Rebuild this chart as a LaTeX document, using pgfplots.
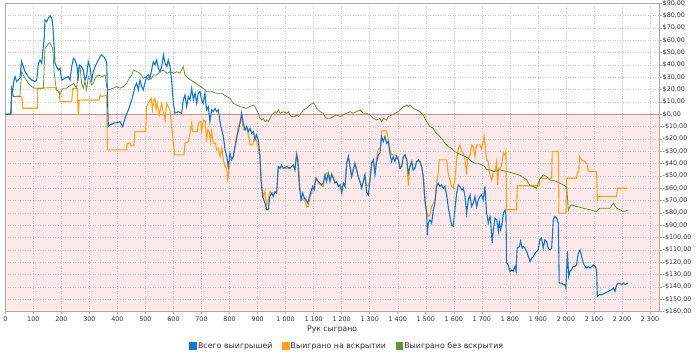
\documentclass[border=0pt]{standalone}
\usepackage{pgfplots}
\pgfplotsset{compat=1.18}
\usepackage{fontspec}
\setmainfont{DejaVu Sans}
\definecolor{cBlue}{RGB}{22,118,206}
\definecolor{cOrange}{RGB}{255,160,30}
\definecolor{cGreen}{RGB}{95,150,62}
\definecolor{cPink}{RGB}{253,233,233}
\definecolor{cZero}{RGB}{222,135,135}
\definecolor{cGrid}{RGB}{205,205,205}
\definecolor{cAxis}{RGB}{170,170,170}
\definecolor{cText}{RGB}{50,50,50}
\begin{document}
\begin{tikzpicture}
\begin{axis}[
  set layers,
  scale only axis,
  width=653.7bp, height=308.2bp,
  at={(0,0)}, anchor=south west,
  xmin=0, xmax=2332, ymin=-160, ymax=90,
  axis line style={cAxis, line width=0.6bp},
  tick style={cAxis, line width=0.6bp},
  tick align=outside,
  major tick length=2.5bp,
  xtick pos=left, ytick pos=right,
  yticklabel pos=right,
  grid=major,
  grid style={cGrid, dash pattern=on 1bp off 1.5bp, line width=0.5bp},
  xtick={0,100,...,2300},
  xticklabels={0,100,200,300,400,500,600,700,800,900,1 000,1 100,1 200,1 300,1 400,1 500,1 600,1 700,1 800,1 900,2 000,2 100,2 200,2 300},
  ytick={-160,-150,...,90},
  yticklabels={{-\$160,00},{-\$150,00},{-\$140,00},{-\$130,00},{-\$120,00},{-\$110,00},{-\$100,00},{-\$90,00},{-\$80,00},{-\$70,00},{-\$60,00},{-\$50,00},{-\$40,00},{-\$30,00},{-\$20,00},{-\$10,00},{\$0,00},{\$10,00},{\$20,00},{\$30,00},{\$40,00},{\$50,00},{\$60,00},{\$70,00},{\$80,00},{\$90,00}},
  tick label style={font=\fontsize{6.4}{7}\selectfont, text=cText},
  yticklabel style={inner sep=1bp},
  xticklabel style={inner sep=1.5bp, yshift=-1bp},
  xlabel={Рук сыграно},
  xlabel style={at={(axis description cs:0.5,-0.0578)}, anchor=center, font=\fontsize{7.7}{9}\selectfont, text=cText},
  legend columns=3,
  legend style={at={(axis description cs:0.5227,-0.112)}, anchor=center, draw=none, fill=none,
    font=\fontsize{7.9}{9}\selectfont, text=cText,
    /tikz/every even column/.append style={column sep=8bp},
    nodes={inner sep=1.5bp}},
  legend image code/.code={\fill[#1] (0bp,-3.4bp) rectangle (6.8bp,3.4bp);},
]
\begin{pgfonlayer}{axis background}
\fill[cPink] (axis cs:0,-160) rectangle (axis cs:2332,0);
\end{pgfonlayer}
\addplot[cZero, line width=0.8bp, forget plot] coordinates {(0,0) (2332,0)};

% orange: won at showdown
\addplot[cOrange, line width=1.1bp, forget plot] coordinates {
(0,0) (20.5,0) (22,14.3) (26,17) (31,14.3) (59,14.3) (62,4.9) (114,4.9) (115.5,21) (177,21.8) (183,19.7) (193,18.3) (195,10.2) (237,10.2) (240.5,21) (257,21) (260,-0.6) (264,11.6) (335,11.6) (338,15.6) (342,14.3) (361.5,15.6) (364,-28.9) (433,-28.9) (435,-23.5) (445,-23.5) (448,-25.7) (459,-25.7) (462.6,-14.1) (501,-14.1) (504,6.2) (510,8.9) (521,13) (525,3.5) (530,11.6) (534,12.9) (538,3.5) (542,8.9) (549,-0.6) (558,8.9) (564,0.8) (570,-4.6) (575.6,8.9) (581.5,6.2) (587.5,3.5) (593.4,-10) (599.4,-23.5) (605.3,-33) (637.4,-33) (641,-23.5) (653,-22.2) (659,-15.4) (665,-7.3) (668,-14.1) (685,-14.1) (688.5,-7.3) (697,-6) (700.4,-14.1) (706.4,-4.6) (713.5,-6) (718,-22.2) (722,-12.7) (728,-14.1) (732.5,-22.2) (736,-14.1) (742,-23.5) (750,-23.5) (754,-28.9) (760,-27.6) (766,-34.3) (772,-27.6) (778,-37) (784,-42.4) (790,-43.8) (793,-54.6) (798,-45.1) (801.5,-37) (807.5,-37) (813.4,-34.3) (819.4,-26.2) (825.3,-20.8) (831,-10) (837,-7.3) (843,-1.9) (846.7,-8.7) (851.4,-12.7) (863.3,-12.7) (867,-16.8) (873,-24.9) (882.4,-24.9) (884.7,-22.2) (890.6,-16.8) (896.6,-22.2) (902.5,-27.6) (908.5,-34.3) (914.4,-55.9) (920.4,-66.7) (926.3,-62.7) (932.3,-74.8) (938,-69.4) (944,-62.7) (956,-64) (968,-64)
(974,-42.4) (992,-43.8) (1015,-43.8) (1027,-41.1) (1033,-45.1) (1039,-31.6) (1045,-37) (1051,-58.6) (1057,-69.4) (1066,-68) (1075,-74.8) (1081,-74.8) (1087,-66.7) (1093,-64) (1099,-58.6) (1105,-55.9) (1111,-51.9) (1117,-55.9) (1123,-57.3) (1134,-58.6) (1140,-49.2) (1146,-47.8) (1152,-47.8) (1158,-52) (1164,-47.8) (1170,-50.5) (1176,-54.6) (1188,-57.3) (1194,-57.3) (1200,-60) (1206,-55.9) (1212,-57.3) (1218,-39.7) (1224,-34.3) (1230,-42.4) (1236,-50.5) (1241,-45.1) (1247,-39.7) (1253,-45.1) (1259,-50.5) (1265,-54.6) (1271,-58.6) (1277,-54.6) (1283,-49.2) (1289,-58) (1295,-58) (1301,-53.2) (1307,-39.7) (1313,-37) (1319,-45) (1325,-35) (1331,-28) (1337,-28) (1343,-13.5) (1360,-13.5) (1366,-20) (1372,-28) (1378,-33) (1390,-33) (1402,-35) (1408,-43.8) (1414,-42.4) (1420,-34.3) (1426,-33) (1432,-37) (1438,-58) (1443,-42.4) (1450,-38.4) (1455,-45.1) (1461,-43.8) (1467,-38.4) (1479,-38.4) (1485,-42.4) (1491,-50.5)
(1497,-72.1) (1503,-78.9) (1509,-82.9) (1515,-81.6) (1521,-74.8) (1533,-69.4) (1538.6,-55.9) (1544.6,-47.8) (1548,-37) (1574.3,-37) (1580,-47.8) (1586,-53.2) (1592,-58.6) (1598,-60) (1604,-53.2) (1610,-37) (1616,-27.6) (1622,-24.9) (1628,-30.3) (1634,-31.6) (1640,-37) (1645.7,-49.2) (1649,-37) (1657.6,-33) (1663.5,-24.9) (1669.5,-26.2) (1675.4,-34.3) (1681.4,-24.9) (1693,-24.9) (1699,-28) (1705,-22) (1708,-17.6) (1711,-23.5) (1717,-37) (1723,-38.4) (1729,-49.2) (1735,-53.2) (1741,-46.5) (1747,-46.5) (1753,-38.4) (1756.3,-57.3) (1760,-43.8) (1767,-43.8) (1771,-39.7) (1777,-31.6) (1783,-33) (1786,-30.3) (1788.4,-77.5) (1824,-77.5) (1826.5,-58) (1905,-58) (1907,-52) (1949,-52) (1951,-30.3) (1973,-30.3) (1975,-80.2) (2000,-80.2) (2002.5,-51.9) (2038,-51.9) (2040.5,-47) (2046,-47) (2048,-34.3) (2056,-37) (2068,-38.4) (2074,-39.7) (2080,-46.5) (2109.5,-46.5) (2112,-69.4) (2115.4,-66.7) (2181,-66.7) (2183.2,-60) (2220,-60)
};

% green: won without showdown
\addplot[cGreen, line width=0.8bp, forget plot] coordinates {
(0,0) (20,0) (22.7,15.6) (31,14.3) (45,14.8) (52,14.3) (58.4,34.6) (70.3,29.2) (82,25.1) (94,22.4) (106,21.1) (135.7,21.1) (141.6,53.5) (147.5,54.8) (153.5,57.5) (159.5,58) (165.4,54.8) (169,53.5) (173.7,35.9) (177.3,27.8) (183,19.7) (189,18.3) (195,15.6) (201,19.7) (207,21.1) (219,21.1) (225,22.4) (237,23.8) (243,25.1) (254.6,21.1) (260.5,37.3) (266.5,38.6) (272.4,25.1) (278.4,21.1) (284.3,26.5) (290,19.7) (296,30.5) (302,27.8) (308,23.8) (314,25.1) (320,29.2) (332,31.9) (344,30.5) (356,31.9) (362,22.4) (367.5,19.7) (385,21.1) (397,22.4) (409,21.1) (421,22.4) (433,25.1) (439,27.8) (451,31.9) (457,35.9) (468.6,34.6) (480.5,33.2) (492,29.2) (504,30.5) (510,27.8) (522,29.2) (528,31.9) (540,31.9) (552,34.6) (564,35.9) (576,33.2) (587.5,34.5) (599.4,33.2) (611,34.5) (623,33.2) (629,35.9) (635,38.6) (641,31.8) (653,29.1) (671,26.4) (688.5,23.7) (706,21) (718,18.3) (736,18.3) (754,17) (772,17) (790,14.3) (801.5,12.9) (813.4,8.9) (825.3,7.5) (837,6.2) (861,4.8) (873,6.2) (885,7.5) (890.6,6.2) (896.6,3.5) (902.5,0.8) (908.5,-3.3) (914.4,-4.6) (920.4,-3.3) (926.3,-6) (932.3,-4.6) (938,-6) (944,-3.3) (950,-0.6) (962,2.1) (968,0.8) (974,3.5) (980,0.8) (992,2.1) (1004,0.8) (1010,2.1) (1015.5,-0.6) (1021.5,-1.9) (1033,-1.9) (1039,-0.6) (1045,-1.9) (1051,-0.6) (1063,3.5) (1075,4.8) (1087,7.5) (1099,9.4) (1105,7.5) (1111,4.8) (1123,2.1) (1134,0.8) (1140,-1.9) (1146,-3.3) (1158,-3.3) (1170,-1.9) (1182,-0.6) (1194,-1.9) (1206,-0.6) (1218,0.8) (1229.5,2.1) (1241.4,0.8) (1253,2.1) (1265,3.5) (1277,0.8) (1289,0.8) (1301,-0.6) (1313,-3.3) (1324.6,-4.6) (1336.5,-3.3) (1342.5,-6) (1348.4,-3.3) (1360.3,-4.6) (1366,-1.9) (1378,-0.6) (1390,0.8) (1402,2.1) (1408,3.5) (1420,6.2) (1426,6.2) (1432,7.5) (1437.6,6.2) (1443.5,7.5) (1449.5,6.2) (1455.4,4.8) (1467.3,3.5) (1479,2.1) (1485,0.8) (1491,-0.6) (1497,-3.3) (1503,-6) (1515,-10) (1527,-11.4) (1532.7,-14.1) (1544.6,-16.8) (1556.5,-19.5) (1568.4,-23.5) (1580,-26.2) (1592,-27.6) (1604,-30.3) (1616,-31.6) (1628,-33) (1640,-34.3) (1651.6,-35.7) (1663.5,-38.4) (1675.4,-39.7) (1687.3,-39.7) (1699,-41.1) (1711,-42.4) (1717,-45.1) (1729,-45.1) (1741,-46.5) (1765,-45.1) (1788,-46.5) (1812,-47.8) (1836,-49.5) (1860,-53.2) (1872,-58) (1884,-58.6) (1895,-60) (1907,-52.5) (1919,-49.2) (1931,-50.5) (1943,-53.2) (1967,-54.6) (1990.5,-57.3) (2003,-59) (2008.4,-78) (2014,-74.8) (2020,-73.5) (2038,-74.8) (2062,-76.2) (2086,-77.5) (2109.5,-78.9) (2121,-76.2) (2157,-76.2) (2169,-72.1) (2181,-76.2) (2193,-77.5) (2205,-78.9) (2220,-78)
};

% blue: total winnings
\addplot[cBlue, line width=1.1bp, forget plot] coordinates {
(0,0) (20,0) (22.7,21) (26,18.3) (31,27.8) (35,30.5) (40,26.5) (52,29.2) (58,42.7) (64,38.6) (70,34.6) (82,30.5) (94,27.8) (106,26.5) (112,27.8) (118,41.3) (124,44) (130,41.3) (139,62.9) (141.6,76.4) (147.5,75) (153.5,77.8) (159.5,79.9) (165.4,77.8) (169,73.7) (173.7,57.5) (177.3,41.3) (183,38.6) (189,35.9) (195,37.3) (201,27.8) (213,29.2) (225,30.5) (231,27.8) (237,38.6) (243,45.4) (248.6,44) (254.6,40) (260.5,30.5) (264,40) (272,38.6) (278,35.9) (284,27.8) (290,30.5) (296,42.7) (302,38.6) (308,27.8) (314,34.6) (320,38.6) (326,41.3) (332,44) (338,46.7) (344,48.1) (356,45.4) (362,41.3) (364,19.7) (367.5,-10) (373.5,-8.7) (385,-7.3) (397,-6.8) (409,-6) (418.6,-10) (427,-3.3) (439,3.5) (451,11.6) (462.6,22.4) (468.6,25.1) (474.5,19.7) (480.5,27.8) (486.4,22.4) (492,19.7) (498,25.1) (504,30.5) (510,31.9) (516,29.2) (528,42.7) (534,40) (540,44) (546,37.3) (552,34.6) (558,38.6) (564,48.1) (570,41.3) (576,38.6) (581.5,44) (587.5,38.6) (593.4,27.8) (599.4,8.9) (605.3,0.8) (617,2.1) (629,0.8) (635,11.6) (641,15.6) (647,6.2) (653,14.3) (659,11.6) (665,21) (671,11.6) (677,17) (683,8.9) (688.5,17) (694.5,18.3) (700.4,11.6) (706,8.9) (712,17) (718,3.5) (724,6.2) (730,-6) (736,3.5) (742,2.1) (748,4.8) (754,2.1) (760,3.5) (766,-6) (772,-12.7) (778,-18.1) (784,-28.9) (790,-34.3) (795.5,-42.4) (801.5,-31.6) (807.5,-37) (813.4,-34.3) (819.4,-26.2) (825.3,-18.1) (831,-14.1) (837,-7.3) (843,0.8) (849,-7.3) (855,-12.7) (861,-10) (867,-14.1) (873,-11.4) (879,-15.4) (885,-14.1) (890.6,-20.8) (896.6,-16.8) (902.5,-20.8) (908.5,-34.3) (912,-53.2) (918,-66.7) (926.3,-72.1) (932.3,-77.5) (938,-77.5) (944,-66.7) (950,-64) (956,-66.7) (962,-62.7) (968,-64) (974,-42.4) (980,-43.8) (986,-41.1) (992,-43.8) (1004,-42.4) (1015.5,-43.8) (1021.5,-42.4) (1027.4,-41.1) (1033.4,-45.1) (1039,-33) (1043,-37) (1049,-58.6) (1055,-69.4) (1061,-64) (1067,-68) (1073,-69.4) (1079,-72.1) (1085,-66.7) (1090.5,-62.7) (1096.4,-58.6) (1102,-61.3) (1108,-51.9) (1116.6,-54.6) (1122.5,-55.9) (1128.5,-57.3) (1134.4,-55.9) (1140.4,-49.2) (1146,-54.6) (1152,-47.8) (1158,-54.6) (1164,-49.2) (1170,-51.9) (1176,-55.9) (1182,-54.6) (1188,-58.6) (1194,-57.3) (1200,-64) (1206,-55.9) (1212,-58.6) (1218,-39.7) (1224,-34.3) (1229.5,-42.4) (1235.5,-50.5) (1241.4,-45.1) (1247.4,-39.7) (1253.3,-45.1) (1259,-50.5) (1265,-54.6) (1271,-60) (1277,-54.6) (1283,-49.2) (1289,-62.7) (1295,-65.4) (1301,-53.2) (1307,-39.7) (1313,-37) (1318.7,-49.2) (1324.6,-38.4) (1330.6,-33) (1336.5,-31.6) (1342.5,-18.1) (1348.4,-22.2) (1354.4,-18.1) (1360.3,-23.5) (1366,-22.2) (1372,-31.6) (1378,-38.4) (1384,-34.3) (1390,-38.4) (1396,-34.3) (1402,-37) (1408,-43.8) (1414,-42.4) (1420,-34.3) (1426,-33) (1432,-37) (1437.6,-47.8) (1443.5,-42.4) (1449.5,-38.4) (1455.4,-45.1) (1461.4,-43.8) (1467.3,-38.4) (1473.3,-37) (1479,-38.4) (1485,-42.4) (1491,-50.5) (1497,-69.4) (1503,-80.2) (1505.4,-97.8) (1509,-88.3) (1515,-85.6) (1521,-88.3) (1527,-77.5) (1532.7,-72.1) (1538.6,-58.6) (1544.6,-55.9) (1550.5,-58.6) (1556.5,-57.3) (1562.4,-60) (1568.4,-58.6) (1574.3,-65.4) (1580,-74.8) (1586,-82.9) (1592,-89.7) (1598,-91) (1604,-77.5) (1610,-64) (1616,-57.3) (1622,-58.6) (1628,-61.3) (1634,-60) (1640,-66.7) (1645.7,-80.2) (1651.6,-69.4) (1657.6,-65.4) (1663.5,-74.8) (1669.5,-72.1) (1675.4,-66.7) (1681.4,-74.8) (1687.3,-69.4) (1693,-66.7) (1699,-65.4) (1705,-69.4) (1711,-58.6) (1717,-80.2) (1723,-88.3) (1729,-83) (1731,-85.6) (1737,-104.6) (1741,-93.8) (1747,-84.3) (1753,-85.6) (1759,-95.1) (1762,-87) (1767,-93.8) (1772,-88.4) (1777,-80.3) (1783,-77.5) (1786,-81.6) (1788.4,-120.8) (1794,-122.1) (1800,-127.5) (1806,-126.2) (1812,-127.5) (1818,-123.5) (1822,-127.5) (1826,-108.6) (1834,-107.3) (1838,-103.2) (1844,-108.6) (1848,-107.3) (1854,-108.6) (1860,-111.3) (1866,-115.4) (1872,-119.4) (1878,-116.7) (1884,-115.4) (1890,-112.7) (1895,-111.3) (1901,-110) (1907,-101.9) (1913,-100.5) (1919,-108.6) (1925,-101.9) (1931,-103.2) (1937,-108.6) (1943,-110) (1949,-108.6) (1955,-85.6) (1961,-82.9) (1967,-84.3) (1973,-88.4) (1976,-137) (1985,-137) (1991,-138.3) (1997,-138.3) (2000,-141) (2005,-111.3) (2010,-131.6) (2014.3,-127.5) (2020,-126.2) (2026,-123.5) (2032,-123.5) (2038,-122.1) (2044,-112.7) (2050,-110) (2056,-115.4) (2062,-120.8) (2068,-123.5) (2074,-124.8) (2080,-123.5) (2086,-124.8) (2092,-123.5) (2098,-122.1) (2104,-123.5) (2109.5,-126.2) (2112,-147.8) (2119,-146.4) (2127,-146.4) (2139,-145.1) (2151,-143.7) (2163,-142.4) (2169,-141) (2175,-143.7) (2181,-138.3) (2187,-137) (2193,-137.5) (2199,-138.3) (2205,-137) (2211,-138.3) (2220,-137)
};

\addlegendimage{cBlue}
\addlegendentry{Всего выигрышей}
\addlegendimage{cOrange}
\addlegendentry{Выиграно на вскрытии}
\addlegendimage{cGreen}
\addlegendentry{Выиграно без вскрытия}
\end{axis}
\pgfresetboundingbox
\path[use as bounding box] (-5.3bp,-50.5bp) rectangle (694.7bp,311.5bp);
\end{tikzpicture}
\end{document}
